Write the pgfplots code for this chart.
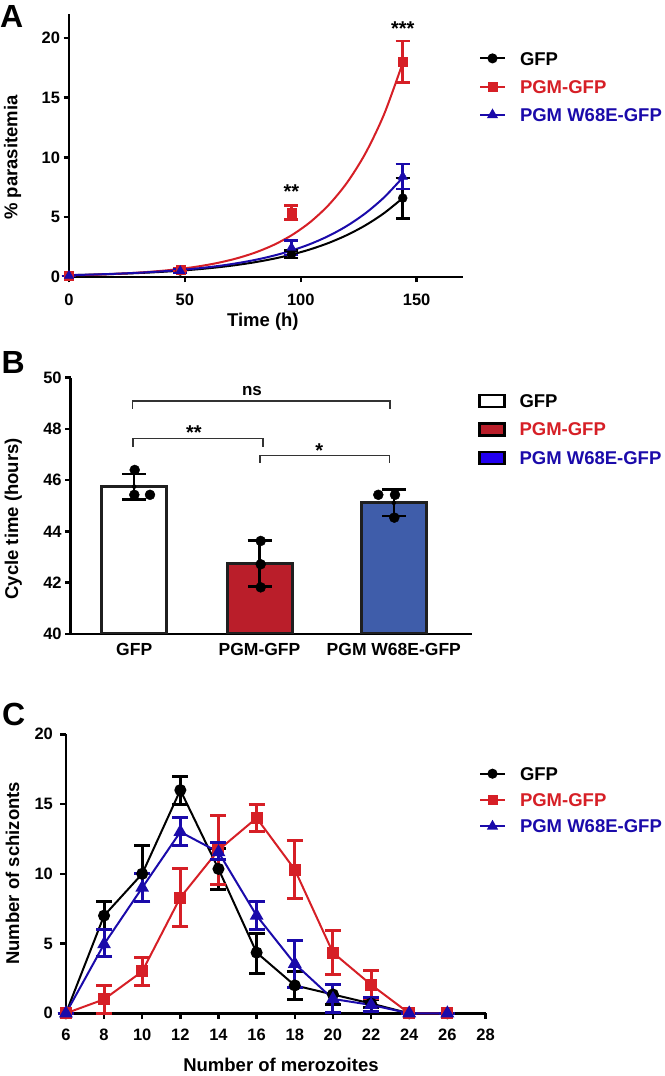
\documentclass[border=0pt]{standalone}
\usepackage{fontspec}
\setmainfont{Liberation Sans}
\usepackage{pgfplots}
\pgfplotsset{compat=1.18}
\definecolor{cred}{HTML}{D61F26}
\definecolor{cblue}{HTML}{1A0AAA}
\definecolor{barred}{HTML}{BA1E2A}
\definecolor{barblue}{HTML}{3F5DAA}
\definecolor{legblue}{HTML}{2200F0}
\pgfplotsset{
  gp/.style={
    scale only axis,
    axis x line*=bottom, axis y line*=left,
    axis line style={line width=2.5pt},
    tick align=outside,
    major tick length=5.5pt,
    tick style={line width=2.5pt, black},
    tick label style={font=\fontsize{16.5}{18}\selectfont\bfseries},
    /pgf/number format/assume math mode=true,
    label style={font=\fontsize{18.5}{20}\selectfont\bfseries},
    legend style={draw=none, fill=none, inner sep=0pt, outer sep=0pt,
      column sep=14pt, anchor=west,
      font=\fontsize{18.5}{20}\selectfont\bfseries,
      nodes={inner sep=0pt, text height=13.3pt, text depth=0pt}},
    legend cell align=left,
    legend image code/.code={\draw[mark repeat=2,mark phase=2,##1] plot coordinates {(0pt,0pt) (12.5pt,0pt) (25pt,0pt)};},
    clip=false,
  },
  boxlegend/.style={legend image code/.code={\draw[##1] (0pt,-6pt) rectangle (25pt,6pt);}},
}
\begin{document}
\begin{tikzpicture}
\path[use as bounding box] (0,0) rectangle (664pt,1076pt);
% ---------------- Panel A ----------------
\node[anchor=north west, inner sep=0pt, font=\fontsize{32}{32}\selectfont\bfseries] at (0pt,1071pt) {A};
\begin{axis}[gp, at={(69pt,799pt)}, anchor=south west, width=394pt, height=263pt,
  xmin=0, xmax=170, ymin=0, ymax=22,
  xtick={0,50,100,150}, ytick={0,5,10,15,20},
  xticklabel style={yshift=-7.5pt},
  xlabel={Time (h)}, ylabel={\% parasitemia},
  xlabel style={at={(axis description cs:0.492,-0.170)}, anchor=center},
  ylabel style={at={(axis description cs:-0.1434,0.454)}, anchor=center},
  legend style={at={(1.0406,0.7236)}, row sep=15pt}]
% fitted curves
\addplot[black, line width=2pt, smooth, forget plot] coordinates {
(0,0.150)(8,0.185)(16,0.228)(24,0.282)(32,0.348)(40,0.429)(48,0.530)(56,0.653)(64,0.806)(72,0.995)(80,1.228)(88,1.515)(96,1.870)(104,2.307)(112,2.847)(120,3.513)(128,4.335)(136,5.349)(144,6.601)};
\addplot[cred, line width=2pt, smooth, forget plot] coordinates {
(0,0.132)(8,0.173)(16,0.228)(24,0.299)(32,0.393)(40,0.516)(48,0.678)(56,0.891)(64,1.171)(72,1.538)(80,2.020)(88,2.653)(96,3.485)(104,4.579)(112,6.015)(120,7.901)(128,10.379)(136,13.634)(144,17.911)};
\addplot[cblue, line width=2pt, smooth, forget plot] coordinates {
(0,0.155)(8,0.193)(16,0.241)(24,0.301)(32,0.376)(40,0.469)(48,0.585)(56,0.730)(64,0.910)(72,1.136)(80,1.417)(88,1.768)(96,2.206)(104,2.752)(112,3.433)(120,4.284)(128,5.345)(136,6.668)(144,8.319)};
% data points with error bars
\addplot[black, only marks, mark=*, mark size=4.5pt, forget plot,
  error bars/.cd, y dir=both, y explicit, error bar style={line width=2.5pt},
  error mark options={rotate=90, mark size=7pt, line width=2.5pt}]
  coordinates {(0,0.1) +- (0,0) (48,0.5) +- (0,0.15) (96,1.9) +- (0,0.3) (144,6.6) +- (0,1.7)};
\addplot[cred, only marks, mark=square*, mark size=4.5pt, forget plot,
  error bars/.cd, y dir=both, y explicit, error bar style={line width=2.5pt},
  error mark options={rotate=90, mark size=7pt, line width=2.5pt}]
  coordinates {(0,0.1) +- (0,0) (48,0.6) +- (0,0.15) (96,5.4) +- (0,0.6) (144,18.0) +- (0,1.75)};
\addplot[cblue, only marks, mark=triangle*, mark size=5.5pt, forget plot,
  error bars/.cd, y dir=both, y explicit, error bar style={line width=2.5pt},
  error mark options={rotate=90, mark size=7pt, line width=2.5pt}]
  coordinates {(0,0.1) +- (0,0) (48,0.5) +- (0,0.15) (96,2.45) +- (0,0.6) (144,8.4) +- (0,1.05)};
\node[anchor=base, font=\fontsize{20}{20}\selectfont\bfseries] at (axis cs:96,6.53) {**};
\node[anchor=base, font=\fontsize{20}{20}\selectfont\bfseries] at (axis cs:144,20.17) {***};
\addlegendimage{black, line width=2pt, mark=*, mark size=4pt}
\addlegendentry{GFP}
\addlegendimage{cred, line width=2pt, mark=square*, mark size=4pt}
\addlegendentry{\textcolor{cred}{PGM-GFP}}
\addlegendimage{cblue, line width=2pt, mark=triangle*, mark size=4.5pt}
\addlegendentry{\textcolor{cblue}{PGM W68E-GFP}}
\end{axis}
% ---------------- Panel B ----------------
\node[anchor=north west, inner sep=0pt, font=\fontsize{32}{32}\selectfont\bfseries] at (1.5pt,724.3pt) {B};
\begin{axis}[gp, clip=true, at={(70.7pt,442pt)}, anchor=south west, width=401.3pt, height=256.3pt,
  xmin=0, xmax=401.3, ymin=40, ymax=50,
  xtick={63.5,188.8,323.1}, xticklabels={GFP,PGM-GFP,PGM W68E-GFP},
  xtick style={draw=none},
  xticklabel style={font=\fontsize{17.5}{19}\selectfont\bfseries},
  ytick={40,42,44,46,48,50},
  ylabel={Cycle time (hours)},
  ylabel style={at={(axis description cs:-0.143,0.449)}, anchor=center},
  legend style={at={(1.015,0.7987)}, row sep=14pt}]
\addplot[ybar, bar width=65pt, bar shift=0pt, fill=white, draw=black!88, line width=3pt, forget plot] coordinates {(63.5,45.75)};
\addplot[ybar, bar width=65pt, bar shift=0pt, fill=barred, draw=black!88, line width=3pt, forget plot] coordinates {(188.8,42.75)};
\addplot[ybar, bar width=65pt, bar shift=0pt, fill=barblue, draw=black!88, line width=3pt, forget plot] coordinates {(323.1,45.12)};
\addplot[black, only marks, mark=none, forget plot,
  error bars/.cd, y dir=both, y explicit, error bar style={line width=2.5pt, black},
  error mark options={rotate=90, mark size=12pt, line width=2.5pt, black}]
  coordinates {(63.5,45.75) +- (0,0.5) (188.8,42.75) +- (0,0.9) (323.1,45.12) +- (0,0.52)};
\addplot[black, only marks, mark=*, mark size=5pt, forget plot] coordinates {
  (64,46.4) (63.6,45.43) (79.3,45.43)
  (190,43.63) (190,42.72) (190,41.82)
  (307.6,45.43) (324.3,45.43) (323.6,44.54)};
\draw[line width=1.3pt, black!80] (axis cs:62,48.78) -- (axis cs:62,49.09) -- (axis cs:319.3,49.09) -- (axis cs:319.3,48.78);
\draw[line width=1.3pt, black!80] (axis cs:62.3,47.31) -- (axis cs:62.3,47.62) -- (axis cs:192.3,47.62) -- (axis cs:192.3,47.31);
\draw[line width=1.3pt, black!80] (axis cs:189.3,46.68) -- (axis cs:189.3,46.97) -- (axis cs:318.6,46.97) -- (axis cs:318.6,46.68);
\node[anchor=base, font=\fontsize{17}{17}\selectfont\bfseries] at (axis cs:181.3,49.29) {ns};
\node[anchor=base, font=\fontsize{20}{20}\selectfont\bfseries] at (axis cs:123.3,47.57) {**};
\node[anchor=base, font=\fontsize{20}{20}\selectfont\bfseries] at (axis cs:248.6,46.87) {*};
\addlegendimage{boxlegend, fill=white, draw=black, line width=2.5pt}
\addlegendentry{GFP}
\addlegendimage{boxlegend, fill=barred, draw=black, line width=2.5pt}
\addlegendentry{\textcolor{cred}{PGM-GFP}}
\addlegendimage{boxlegend, fill=legblue, draw=black, line width=2.5pt}
\addlegendentry{\textcolor{cblue}{PGM W68E-GFP}}
\end{axis}
% ---------------- Panel C ----------------
\node[anchor=north west, inner sep=0pt, font=\fontsize{32}{32}\selectfont\bfseries] at (2pt,373pt) {C};
\begin{axis}[gp, at={(65.9pt,62.7pt)}, anchor=south west, width=419.6pt, height=279pt,
  xmin=6, xmax=28, ymin=0, ymax=20,
  xtick={6,8,...,28}, ytick={0,5,10,15,20},
  xticklabel style={yshift=-7pt}, yticklabel style={xshift=-4pt},
  xlabel={Number of merozoites}, ylabel={Number of schizonts},
  xlabel style={at={(axis description cs:0.5126,-0.186)}, anchor=center},
  ylabel style={at={(axis description cs:-0.127,0.502)}, anchor=center},
  legend style={at={(0.9845,0.7645)}, row sep=13pt}]
\addplot[black, line width=2pt, mark=*, mark size=5pt, forget plot,
  error bars/.cd, y dir=both, y explicit, error bar style={line width=3pt},
  error mark options={rotate=90, mark size=8pt, line width=3pt}]
  table[x=x, y=y, y error plus=ep, y error minus=em] {
x y ep em
6 0 0 0
8 7.0 1.05 1.0
10 10.0 2.0 2.0
12 16.0 1.0 1.0
14 10.35 1.45 1.45
16 4.35 1.4 1.5
18 2.0 1.0 1.0
20 1.35 0.7 0.7
22 0.7 0.3 0.3
24 0 0 0
26 0 0 0
};
\addplot[cred, line width=2pt, mark=square*, mark size=5pt, forget plot,
  error bars/.cd, y dir=both, y explicit, error bar style={line width=3pt},
  error mark options={rotate=90, mark size=8pt, line width=3pt}]
  table[x=x, y=y, y error plus=ep, y error minus=em] {
x y ep em
6 0 0 0
8 1.0 1.0 1.0
10 3.0 1.0 1.0
12 8.3 2.1 2.05
14 11.7 2.45 2.45
16 14.0 1.0 1.0
18 10.3 2.1 2.05
20 4.35 1.55 1.55
22 2.05 1.0 1.0
24 0 0 0
26 0 0 0
};
\addplot[cblue, line width=2pt, mark=triangle*, mark size=6pt, forget plot,
  error bars/.cd, y dir=both, y explicit, error bar style={line width=3pt},
  error mark options={rotate=90, mark size=8pt, line width=3pt}]
  table[x=x, y=y, y error plus=ep, y error minus=em] {
x y ep em
6 0 0 0
8 4.95 1.05 0.9
10 9.0 1.0 1.0
12 13.0 1.0 1.0
14 11.55 0.7 0.5
16 7.0 1.0 1.0
18 3.55 1.65 1.7
20 1.03 1.0 1.0
22 0.6 0.5 0.5
24 0 0 0
26 0 0 0
};
\addlegendimage{black, line width=2pt, mark=*, mark size=4pt}
\addlegendentry{GFP}
\addlegendimage{cred, line width=2pt, mark=square*, mark size=4pt}
\addlegendentry{\textcolor{cred}{PGM-GFP}}
\addlegendimage{cblue, line width=2pt, mark=triangle*, mark size=4.5pt}
\addlegendentry{\textcolor{cblue}{PGM W68E-GFP}}
\end{axis}
\end{tikzpicture}
\end{document}
